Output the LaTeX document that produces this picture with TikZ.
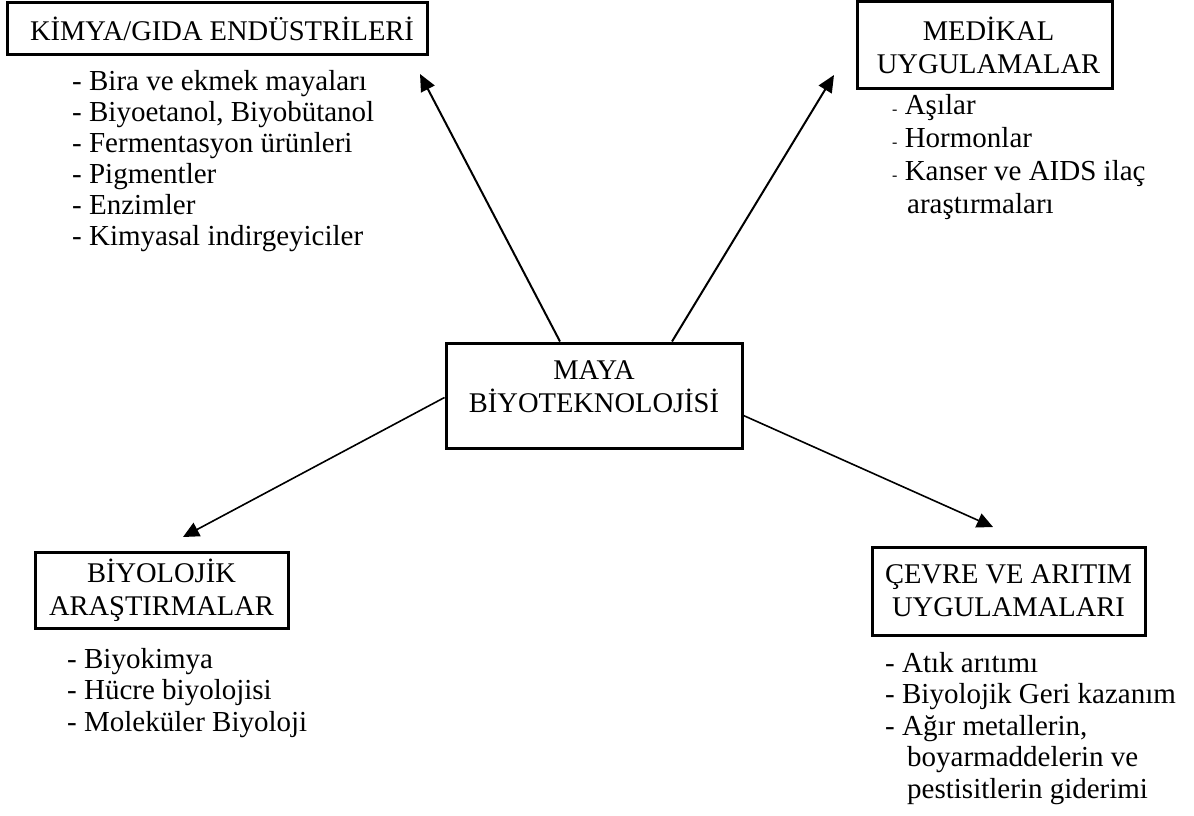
\documentclass[tikz,border=0pt]{standalone}
\usepackage{fontspec}
\setmainfont{Liberation Serif}
\usetikzlibrary{arrows.meta}
\begin{document}
\begin{tikzpicture}[x=1pt,y=-1pt,
  box/.style={draw,line width=3pt,align=center,inner sep=0pt,font=\fontsize{28.5}{33}\selectfont},
  lst/.style={align=left,inner sep=0pt,anchor=north west,font=\fontsize{29}{31}\selectfont},
  arr/.style={line width=2pt,-{Triangle[length=17pt,width=15pt]}},
  arrthin/.style={line width=1.6pt,-{Triangle[length=16pt,width=15pt]}}]
\useasboundingbox (0,0) rectangle (1194,816);
\node[box,minimum width=420pt,minimum height=52pt] (kim) at (217,29) {\hspace*{10pt}KİMYA/GIDA ENDÜSTRİLERİ};
\node[box,minimum width=255pt,minimum height=86pt] (med) at (984.5,45) {\hspace*{8pt}MEDİKAL\\\hspace*{8pt}UYGULAMALAR};
\node[box,minimum width=296pt,minimum height=105pt] (maya) at (594,395.5) {MAYA\\BİYOTEKNOLOJİSİ\\[-25pt]\strut};
\node[box,minimum width=253pt,minimum height=76pt] (bio) at (161.5,590) {BİYOLOJİK\\ARAŞTIRMALAR};
\node[box,minimum width=273pt,minimum height=88pt] (cev) at (1008.5,591) {ÇEVRE VE ARITIM\\UYGULAMALARI};

\node[lst] (kiml) at (72,70) {- Bira ve ekmek mayaları\\- Biyoetanol, Biyobütanol\\- Fermentasyon ürünleri\\- Pigmentler\\- Enzimler\\- Kimyasal indirgeyiciler};
\node[lst,font=\fontsize{29}{33}\selectfont] (medl) at (892,94) {{\fontsize{16}{16}\selectfont-} Aşılar\\{\fontsize{16}{16}\selectfont-} Hormonlar\\{\fontsize{16}{16}\selectfont-} Kanser ve AIDS ilaç\\\hspace*{15pt}araştırmaları};
\node[lst,font=\fontsize{29}{31.5}\selectfont] (biol) at (67,648) {- Biyokimya\\- Hücre biyolojisi\\- Moleküler Biyoloji};
\node[lst,font=\fontsize{29}{31.5}\selectfont] (cevl) at (885,652) {- Atık arıtımı\\- Biyolojik Geri kazanım\\- Ağır metallerin,\\\hspace*{22pt}boyarmaddelerin ve\\\hspace*{22pt}pestisitlerin giderimi};

\coordinate (t1) at (420,74);
\coordinate (t2) at (834,75);
\coordinate (t3) at (183,537);
\coordinate (t4) at (993,527);
\draw[arr] ([xshift=-34pt]maya.north) -- (t1);
\draw[arr] ([xshift=78pt]maya.north) -- (t2);
\draw[arrthin] ([yshift=-2pt]maya.west) -- (t3);
\draw[arrthin] ([yshift=-20pt]maya.east) -- (t4);
\end{tikzpicture}
\end{document}
